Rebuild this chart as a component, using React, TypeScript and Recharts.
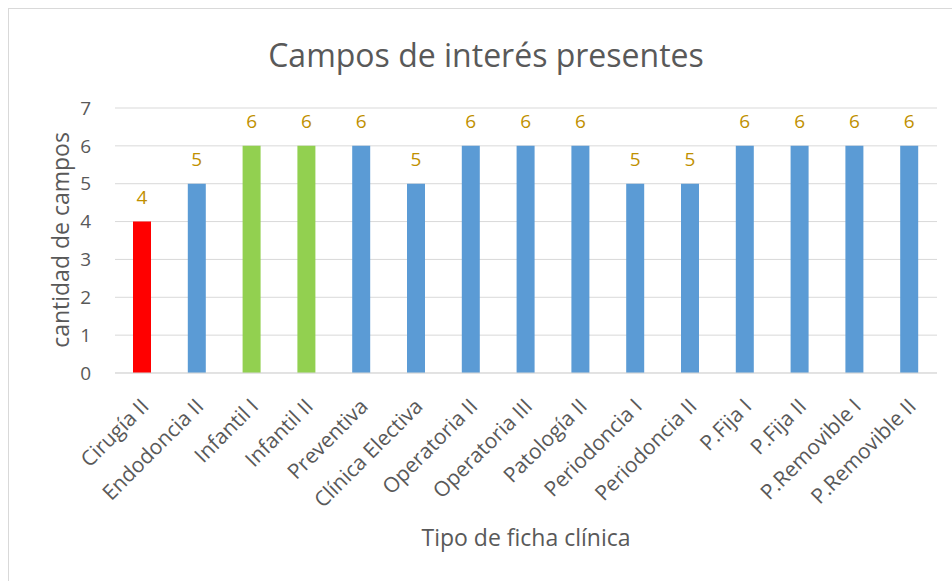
import { BarChart, Bar, Cell, XAxis, YAxis, CartesianGrid, LabelList } from 'recharts';

const categories = [
  'Cirugía II',
  'Endodoncia II',
  'Infantil I',
  'Infantil II',
  'Preventiva',
  'Clínica Electiva',
  'Operatoria II',
  'Operatoria III',
  'Patología II',
  'Periodoncia I',
  'Periodoncia II',
  'P.Fija I',
  'P.Fija II',
  'P.Removible I',
  'P.Removible II',
];

const campos = [4, 5, 6, 6, 6, 5, 6, 6, 6, 5, 5, 6, 6, 6, 6];

// grupo de color por barra: r = rojo, g = verde, b = azul
const grupos = ['r', 'b', 'g', 'g', 'b', 'b', 'b', 'b', 'b', 'b', 'b', 'b', 'b', 'b', 'b'];

const yTicks = [0, 1, 2, 3, 4, 5, 6, 7];

const COLORS: Record<string, string> = { r: '#FF0000', g: '#92D050', b: '#5B9BD5' };
const TEXT = '#595959';
const FONT = '"Open Sans", sans-serif';

const data = categories.map((name, i) => ({ name, value: campos[i], grupo: grupos[i] }));

const CategoryTick = ({ x, y, payload }: any) => (
  <g transform={`translate(${x - 3},${y + 16})`}>
    <text
      textAnchor="end"
      transform="rotate(-45)"
      dy="0.72em"
      fill={TEXT}
      fontSize={21}
      fontFamily={FONT}
    >
      {payload.value}
    </text>
  </g>
);

export default function App() {
  return (
    <div
      style={{
        position: 'absolute',
        left: 0,
        top: 0,
        width: 952,
        height: 581,
        background: '#fff',
        fontFamily: FONT,
        overflow: 'hidden',
      }}
    >
      <div
        style={{
          position: 'absolute',
          left: 8,
          top: 8,
          width: 960,
          height: 600,
          borderTop: '1px solid #d9d9d9',
          borderLeft: '1px solid #d9d9d9',
        }}
      />
      <div
        style={{
          position: 'absolute',
          left: 486,
          top: 54,
          transform: 'translate(-50%, -50%)',
          whiteSpace: 'nowrap',
          fontSize: 32,
          color: TEXT,
        }}
      >
        Campos de interés presentes
      </div>
      <div
        style={{
          position: 'absolute',
          left: 60,
          top: 240,
          transform: 'translate(-50%, -50%) rotate(-90deg)',
          whiteSpace: 'nowrap',
          fontSize: 23,
          color: TEXT,
        }}
      >
        cantidad de campos
      </div>
      <div
        style={{
          position: 'absolute',
          left: 526,
          top: 537,
          transform: 'translate(-50%, -50%)',
          whiteSpace: 'nowrap',
          fontSize: 23,
          color: TEXT,
        }}
      >
        Tipo de ficha clínica
      </div>
      <div style={{ position: 'absolute', left: 0, top: 0 }}>
        <BarChart
          width={952}
          height={581}
          data={data}
          margin={{ top: 108, right: 15, left: 0, bottom: 0 }}
        >
          <CartesianGrid vertical={false} stroke="#d9d9d9" />
          <XAxis
            dataKey="name"
            interval={0}
            height={208}
            tickLine={false}
            axisLine={{ stroke: '#d9d9d9' }}
            tick={<CategoryTick />}
          />
          <YAxis
            width={115}
            domain={[0, 7]}
            ticks={yTicks}
            tickLine={false}
            axisLine={false}
            tickSize={0}
            tickMargin={24}
            tick={{ fill: TEXT, fontSize: 19, fontFamily: FONT }}
          />
          <Bar dataKey="value" barSize={18} isAnimationActive={false}>
            {data.map((d, i) => (
              <Cell key={`cell-${i}`} fill={COLORS[d.grupo]} />
            ))}
            <LabelList
              dataKey="value"
              position="top"
              offset={18}
              fill="#BF9000"
              fontSize={19}
              fontFamily={FONT}
            />
          </Bar>
        </BarChart>
      </div>
    </div>
  );
}
